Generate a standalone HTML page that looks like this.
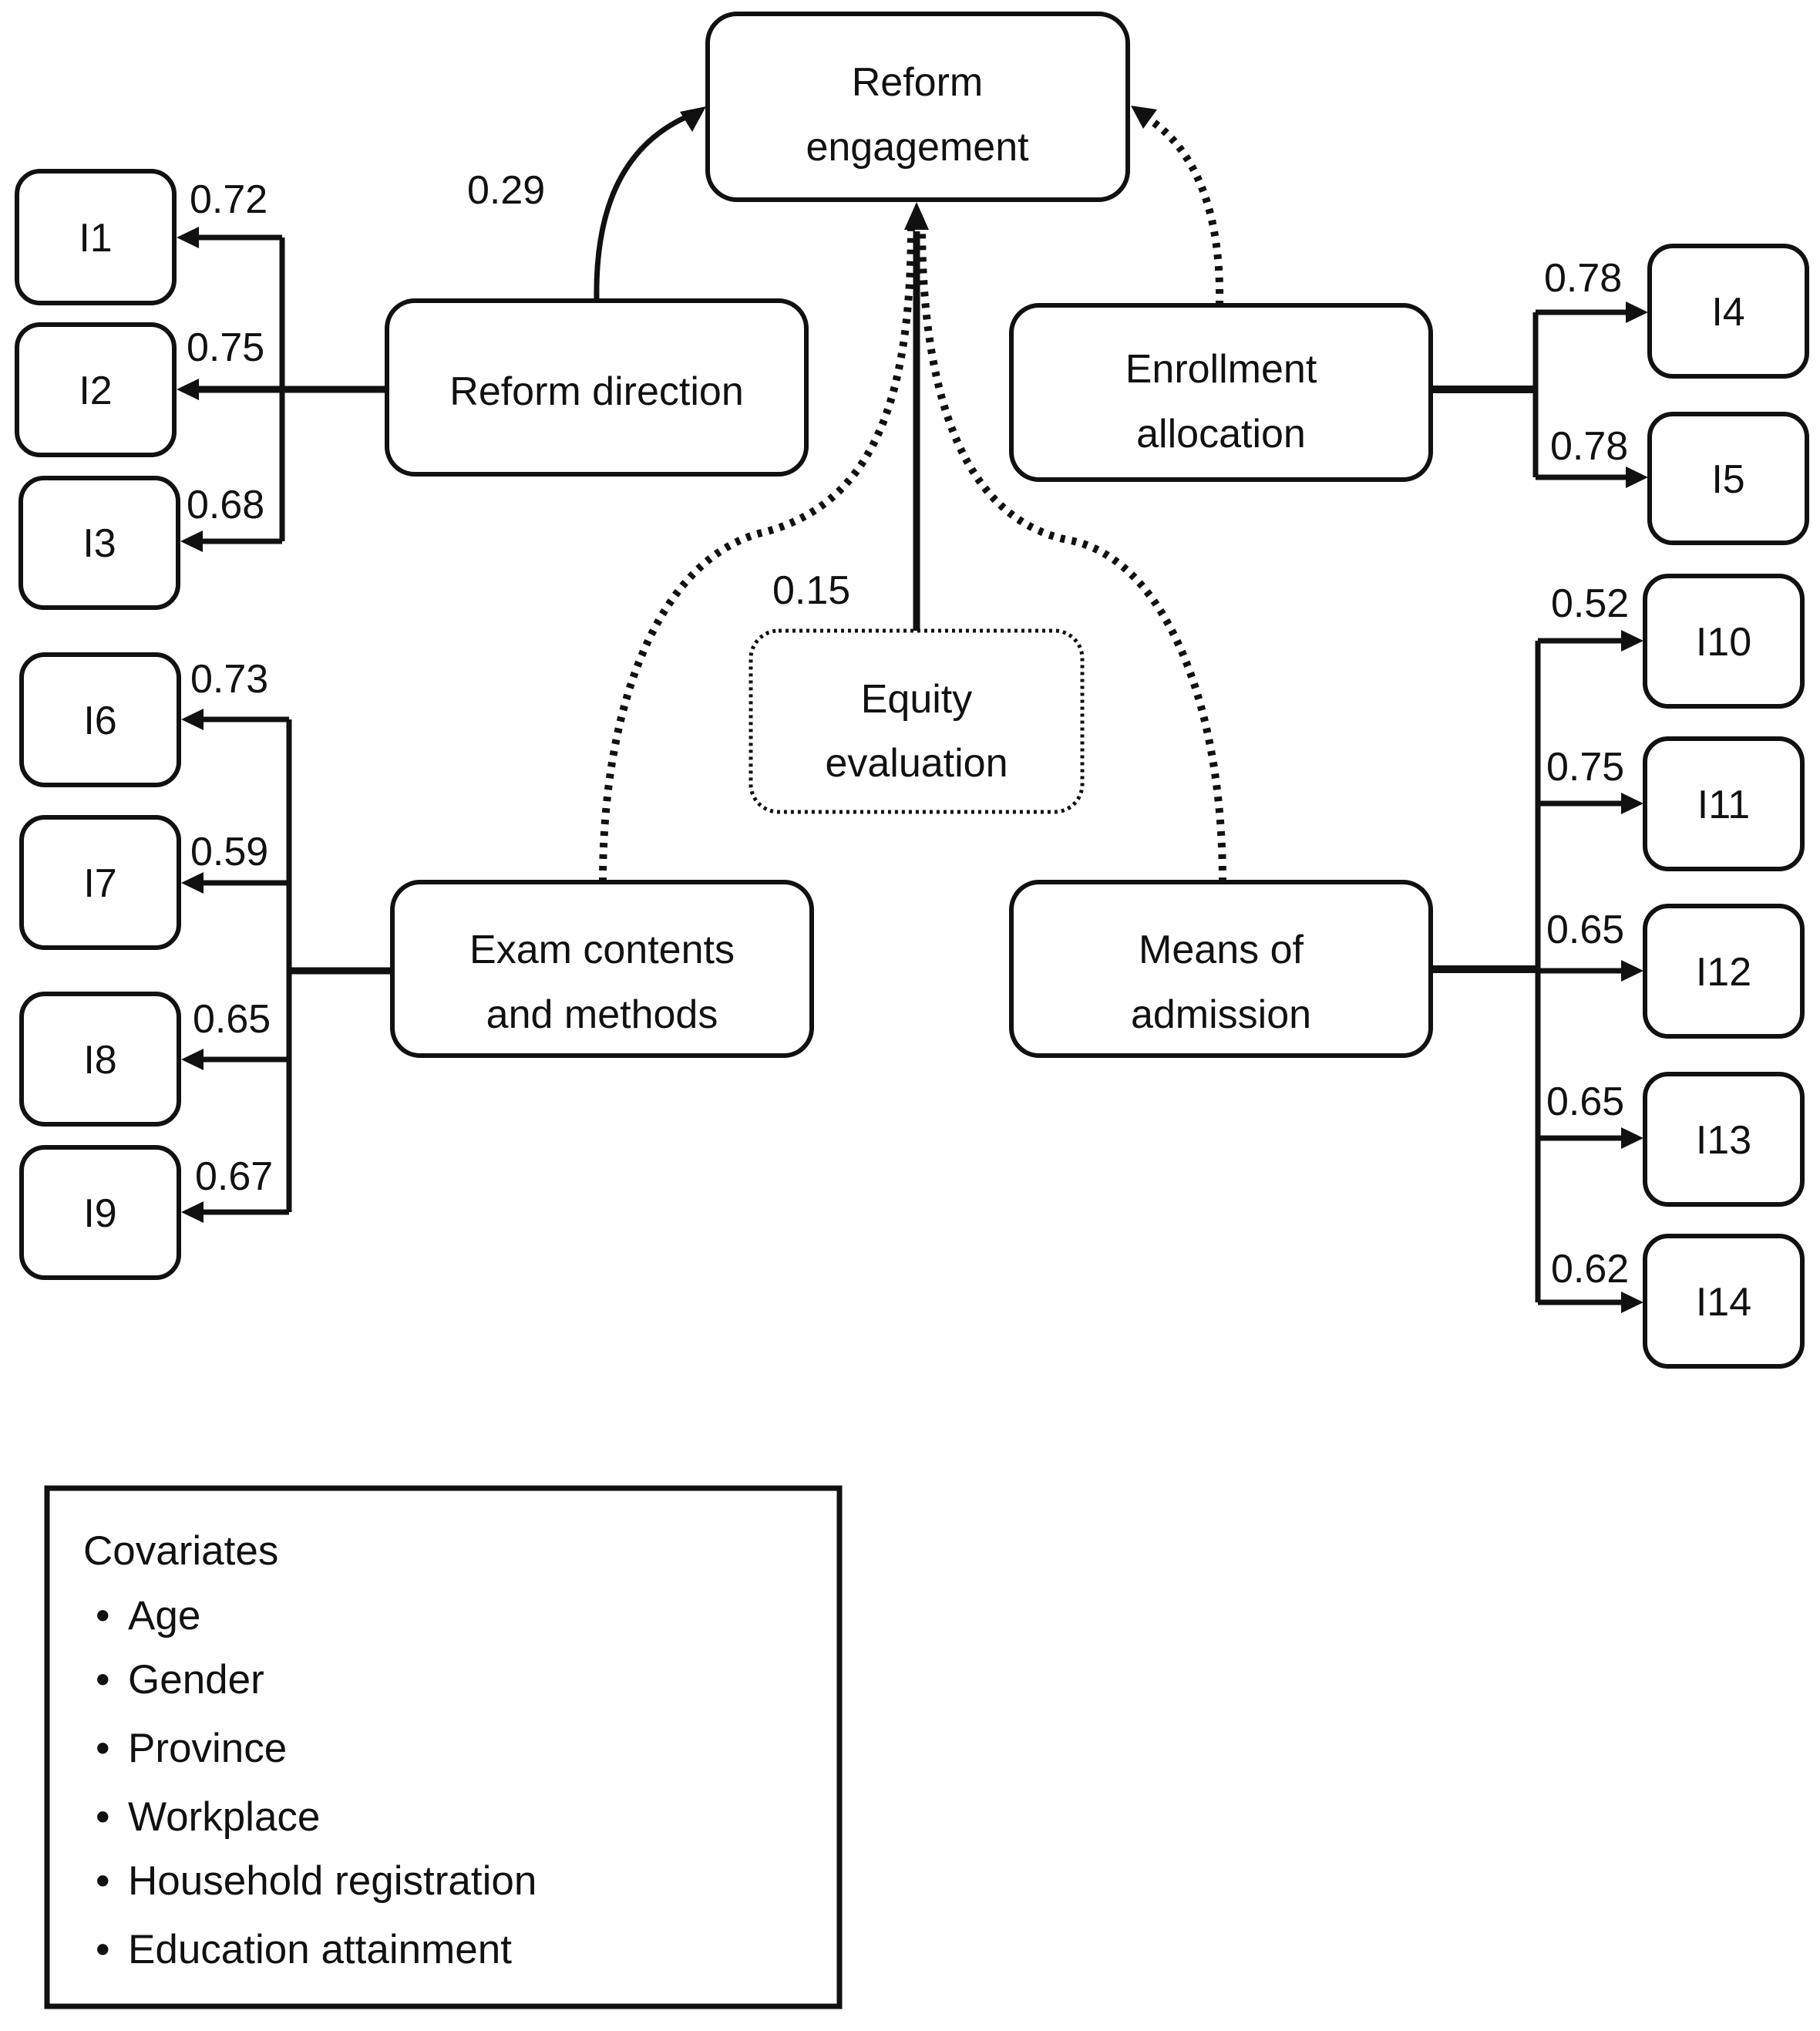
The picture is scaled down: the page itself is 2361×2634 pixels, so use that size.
<!DOCTYPE html>
<html><head><meta charset="utf-8"><style>
html,body{margin:0;padding:0;background:#fff;}
svg{display:block;}
text{font-family:"Liberation Sans",sans-serif;fill:#111;}
</style></head><body>
<svg width="2361" height="2634" viewBox="0 0 2361 2634" xmlns="http://www.w3.org/2000/svg">
<g fill="none" stroke="#111" stroke-width="6">
<rect x="918" y="18" width="545" height="241" rx="38"/>
<rect x="502" y="390" width="544" height="225" rx="36"/>
<rect x="1312" y="396" width="544" height="226" rx="36"/>
<rect x="509" y="1144" width="544" height="225" rx="36"/>
<rect x="1312" y="1144" width="544" height="225" rx="36"/>
<rect x="974" y="818" width="430" height="235" rx="36" stroke-dasharray="4 5" stroke-width="5"/>
<rect x="22" y="222" width="204" height="171" rx="30"/>
<rect x="22" y="421" width="204" height="169" rx="30"/>
<rect x="27" y="620" width="204" height="168" rx="30"/>
<rect x="28" y="849" width="204" height="169" rx="30"/>
<rect x="28" y="1060" width="204" height="169" rx="30"/>
<rect x="28" y="1289" width="204" height="169" rx="30"/>
<rect x="28" y="1488" width="204" height="169" rx="30"/>
<rect x="2140" y="319" width="204" height="169" rx="30"/>
<rect x="2140" y="537" width="204" height="167" rx="30"/>
<rect x="2134" y="747" width="204" height="169" rx="30"/>
<rect x="2134" y="958" width="204" height="169" rx="30"/>
<rect x="2134" y="1175" width="204" height="169" rx="30"/>
<rect x="2134" y="1393" width="204" height="169" rx="30"/>
<rect x="2134" y="1603" width="204" height="169" rx="30"/>
<rect x="61" y="1930" width="1028" height="672" stroke-width="7"/>
<path d="M366 308 V702 M252 308 H366 M252 702 H366" stroke-width="7"/>
<path d="M252 505 H502" stroke-width="9"/>
<path d="M375 933 V1572 M255 933 H375 M255 1145 H375 M255 1374 H375 M255 1572 H375" stroke-width="7"/>
<path d="M375 1259 H509" stroke-width="9"/>
<path d="M1992 405 V619 M1992 405 H2115 M1992 619 H2115" stroke-width="7"/>
<path d="M1856 505 H1992" stroke-width="10"/>
<path d="M1995 831 V1689 M1995 831 H2110 M1995 1042 H2110 M1995 1476 H2110 M1995 1689 H2110 M1995 1259 H2110" stroke-width="7"/>
<path d="M1856 1257 H1995" stroke-width="10"/>
<path d="M774 390 C772 280 802 190 894 150" stroke-width="7"/>
<path d="M1189 818 V300" stroke-width="9"/>
<g stroke-width="10" stroke-dasharray="6 9">
<path d="M1582 396 C1585 250 1535 180 1483 150"/>
<path d="M782 1144 C782 900 862 720 992 690 C1142 650 1182 500 1182 290"/>
<path d="M1586 1144 C1586 900 1504 720 1384 700 C1244 670 1196 500 1196 290"/>
</g>
</g>
<g fill="#111">
<polygon points="229,308 258,294 258,322"/>
<polygon points="229,505 258,491 258,519"/>
<polygon points="234,702 263,688 263,716"/>
<polygon points="235,933 264,919 264,947"/>
<polygon points="235,1145 264,1131 264,1159"/>
<polygon points="235,1374 264,1360 264,1388"/>
<polygon points="235,1572 264,1558 264,1586"/>
<polygon points="2138,405 2109,391 2109,419"/>
<polygon points="2138,619 2109,605 2109,633"/>
<polygon points="2132,831 2103,817 2103,845"/>
<polygon points="2132,1042 2103,1028 2103,1056"/>
<polygon points="2132,1259 2103,1245 2103,1273"/>
<polygon points="2132,1476 2103,1462 2103,1490"/>
<polygon points="2132,1689 2103,1675 2103,1703"/>
<polygon points="1189,262 1173,298 1205,298"/>
<polygon points="916,138 882,145 898,171"/>
<polygon points="1467,137 1501,142 1483,167"/>
</g>
<g font-size="52" text-anchor="middle">
<text x="1190" y="124">Reform</text>
<text x="1190" y="208">engagement</text>
<text x="774" y="525">Reform direction</text>
<text x="1584" y="496">Enrollment</text>
<text x="1584" y="580">allocation</text>
<text x="1189" y="924">Equity</text>
<text x="1189" y="1007">evaluation</text>
<text x="781" y="1249">Exam contents</text>
<text x="781" y="1333">and methods</text>
<text x="1584" y="1249">Means of</text>
<text x="1584" y="1333">admission</text>
<text x="124" y="326">I1</text>
<text x="124" y="524">I2</text>
<text x="129" y="722">I3</text>
<text x="130" y="952">I6</text>
<text x="130" y="1163">I7</text>
<text x="130" y="1392">I8</text>
<text x="130" y="1591">I9</text>
<text x="2242" y="422">I4</text>
<text x="2242" y="639">I5</text>
<text x="2236" y="850">I10</text>
<text x="2236" y="1061">I11</text>
<text x="2236" y="1278">I12</text>
<text x="2236" y="1496">I13</text>
<text x="2236" y="1706">I14</text>
</g>
<g font-size="52">
<text x="246" y="276">0.72</text>
<text x="242" y="468">0.75</text>
<text x="242" y="672">0.68</text>
<text x="606" y="264">0.29</text>
<text x="1002" y="783">0.15</text>
<text x="247" y="898">0.73</text>
<text x="247" y="1122">0.59</text>
<text x="250" y="1339">0.65</text>
<text x="253" y="1543">0.67</text>
<text x="2003" y="378">0.78</text>
<text x="2011" y="596">0.78</text>
<text x="2012" y="800">0.52</text>
<text x="2006" y="1012">0.75</text>
<text x="2006" y="1223">0.65</text>
<text x="2006" y="1446">0.65</text>
<text x="2012" y="1663">0.62</text>
</g>
<g font-size="53">
<text x="108" y="2029">Covariates</text>
<text x="124" y="2113">• <tspan x="166">Age</tspan></text>
<text x="124" y="2196">• <tspan x="166">Gender</tspan></text>
<text x="124" y="2285">• <tspan x="166">Province</tspan></text>
<text x="124" y="2374">• <tspan x="166">Workplace</tspan></text>
<text x="124" y="2457">• <tspan x="166">Household registration</tspan></text>
<text x="124" y="2546">• <tspan x="166">Education attainment</tspan></text>
</g>
</svg>
</body></html>
